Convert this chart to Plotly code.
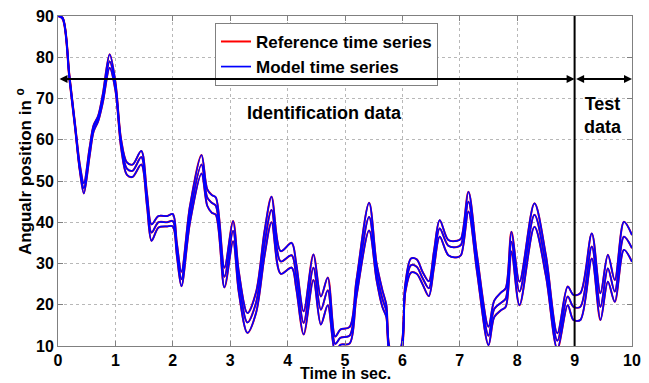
import plotly.graph_objects as go

# Time instants (s) and the three response levels (upper / middle / lower), in degrees
time_s = [0.0, 0.08, 0.2, 0.3, 0.38, 0.45, 0.55, 0.62, 0.7, 0.78, 0.9, 1.0, 1.1, 1.2, 1.3,
          1.45, 1.55, 1.63, 1.75, 1.9, 2.0, 2.07, 2.15, 2.3, 2.5, 2.6, 2.68, 2.75, 2.9,
          3.05, 3.15, 3.3, 3.45, 3.6, 3.72, 3.88, 4.07, 4.15, 4.28, 4.45, 4.58, 4.7,
          4.83, 4.92, 5.08, 5.2, 5.42, 5.55, 5.65, 5.72, 5.8, 5.95, 6.05, 6.15, 6.25,
          6.35, 6.46, 6.55, 6.65, 6.8, 6.95, 7.02, 7.15, 7.3, 7.5, 7.6, 7.72, 7.8, 7.9,
          8.04, 8.3, 8.5, 8.7, 8.88, 8.98, 9.1, 9.3, 9.45, 9.58, 9.7, 9.86, 10.0]

upper = [90, 89.6, 75.5, 63.5, 54, 49.5, 58, 63.5, 65.8, 71, 80.7, 74, 60, 54.5, 54,
         57.3, 47, 39.5, 41.5, 41.5, 42, 35, 28, 44, 56.3, 48, 46.6, 46, 29,
         40.3, 28, 18, 23, 38, 46.2, 33, 35, 30, 18.4, 32.2, 22, 26.6,
         12.3, 14, 14.6, 26, 44.7, 30, 23.6, 20, 9, 9, 25, 31.2, 31,
         28, 25.7, 33, 40.5, 35.7, 35.5, 36, 47.4, 32, 14.7, 21, 23, 24, 37.7,
         25.6, 44.6, 32, 13.1, 24.4, 22.4, 22.8, 37.3, 22.8, 32.1, 26, 40.1, 36.9]

middle = [90, 89.5, 75, 63, 53, 48.3, 57, 63, 65.2, 70, 79, 73, 59, 53, 52.5,
          55.8, 45.5, 37.5, 40, 40, 40.3, 33.5, 26.2, 42, 54, 46, 44.7, 44, 26.8,
          37.9, 25.5, 15.7, 20.5, 35, 43, 30.5, 32, 27, 15.6, 29, 18.8, 23.5,
          10.5, 12, 12.5, 24, 41.3, 28, 21.5, 18.5, 8, 8, 24, 29.6, 29.2,
          26.5, 24, 31, 38.5, 34.3, 34, 34.5, 45, 30, 12.5, 19, 20.5, 21.5, 35.3,
          23.2, 41.8, 29.5, 11.3, 22, 19.5, 19.5, 34.1, 19.5, 28.8, 23.2, 36.5, 33.7]

lower = [90, 89.3, 74.5, 62.5, 52.5, 47, 56, 62, 64.5, 69, 77.4, 72, 58, 51.5, 51,
         54, 44, 35.5, 38.7, 39, 39, 32, 24.5, 40, 51.8, 44, 42.3, 41.8, 24.2,
         35.4, 23, 13.2, 18, 32, 40, 27.5, 29, 24, 12.8, 26, 15.2, 19.9,
         8.5, 10.3, 10.6, 22, 38, 26, 19.5, 17, 7, 7, 23, 27.8, 27.5,
         25, 22.1, 29, 36.5, 32, 31.5, 32, 42.6, 28, 10.2, 17, 18.7, 19.5, 32.9,
         19.9, 38.9, 27, 9.3, 19.9, 16.3, 16.3, 31.2, 16.3, 25.6, 20.7, 33.3, 30.4]

levels = [upper, middle, lower]
x_ticks = list(range(0, 11))
y_ticks = list(range(10, 91, 10))
split_time = 9
arrow_level = 74.7

FONT = "Liberation Sans, Arial, sans-serif"

fig = go.Figure()

for i, vals in enumerate(levels):
    fig.add_trace(go.Scatter(
        x=time_s, y=vals, mode="lines",
        line=dict(color="#ff0000", width=2.0, shape="spline", smoothing=0.9),
        name="Reference time series", legendgroup="ref", showlegend=(i == 0),
    ))
for i, vals in enumerate(levels):
    fig.add_trace(go.Scatter(
        x=time_s, y=vals, mode="lines",
        line=dict(color="#0000ff", width=1.7, shape="spline", smoothing=0.9),
        name="Model time series", legendgroup="mod", showlegend=(i == 0),
    ))

# vertical separator
fig.add_shape(type="line", x0=split_time, x1=split_time, y0=10, y1=90,
              xref="x", yref="y", line=dict(color="black", width=2))

# double-headed arrows
fig.add_annotation(x=split_time, y=arrow_level, ax=0, ay=arrow_level,
                   xref="x", yref="y", axref="x", ayref="y", text="",
                   showarrow=True, arrowhead=2, arrowside="end+start",
                   arrowsize=0.8, arrowwidth=2, arrowcolor="black")
fig.add_annotation(x=10, y=arrow_level, ax=split_time, ay=arrow_level,
                   xref="x", yref="y", axref="x", ayref="y", text="",
                   showarrow=True, arrowhead=2, arrowside="end+start",
                   arrowsize=0.8, arrowwidth=2, arrowcolor="black")

fig.add_annotation(x=4.64, y=66.5, xref="x", yref="y", text="Identification data",
                   showarrow=False, font=dict(family=FONT, size=18, color="black", weight="bold"))
fig.add_annotation(x=9.5, y=66, xref="x", yref="y", text="Test<br>data",
                   showarrow=False, font=dict(family=FONT, size=18, color="black", weight="bold"))

# axis titles as paper-anchored text
fig.add_annotation(x=0.5, y=-0.084, xref="paper", yref="paper", text="Time in sec.",
                   showarrow=False, xanchor="center", yanchor="middle",
                   font=dict(family=FONT, size=16, color="black", weight="bold"))
fig.add_annotation(x=-0.0592, y=0.527, xref="paper", yref="paper",
                   text="Angualr position in <sup>o</sup>", textangle=-90,
                   showarrow=False, xanchor="center", yanchor="middle",
                   font=dict(family=FONT, size=17, color="black", weight="bold"))

axis_common = dict(
    showgrid=True, gridcolor="#b8b8b8", griddash="dot", gridwidth=1,
    showline=True, linecolor="#808080", linewidth=1, mirror="ticks",
    ticks="inside", ticklen=5, tickcolor="#808080",
    tickfont=dict(family=FONT, size=16, color="black", weight="bold"),
    zeroline=False, automargin=False,
)

fig.update_xaxes(range=[0, 10], tickvals=x_ticks, ticklabelstandoff=0, **axis_common)
fig.update_yaxes(range=[10, 90], tickvals=y_ticks, **axis_common)

fig.update_layout(
    width=649, height=383,
    margin=dict(l=58, r=17, t=16, b=37, autoexpand=False),
    paper_bgcolor="white", plot_bgcolor="white",
    showlegend=True,
    legend=dict(x=0.2735, y=0.979, xanchor="left", yanchor="top",
                bgcolor="white", bordercolor="#808080", borderwidth=1,
                font=dict(family=FONT, size=17, color="black", weight="bold"),
                tracegroupgap=0, itemwidth=30),
)

fig.write_html("out.html", config={"displayModeBar": False},
               post_script="document.body.style.margin='0px';document.body.style.overflow='hidden';")
